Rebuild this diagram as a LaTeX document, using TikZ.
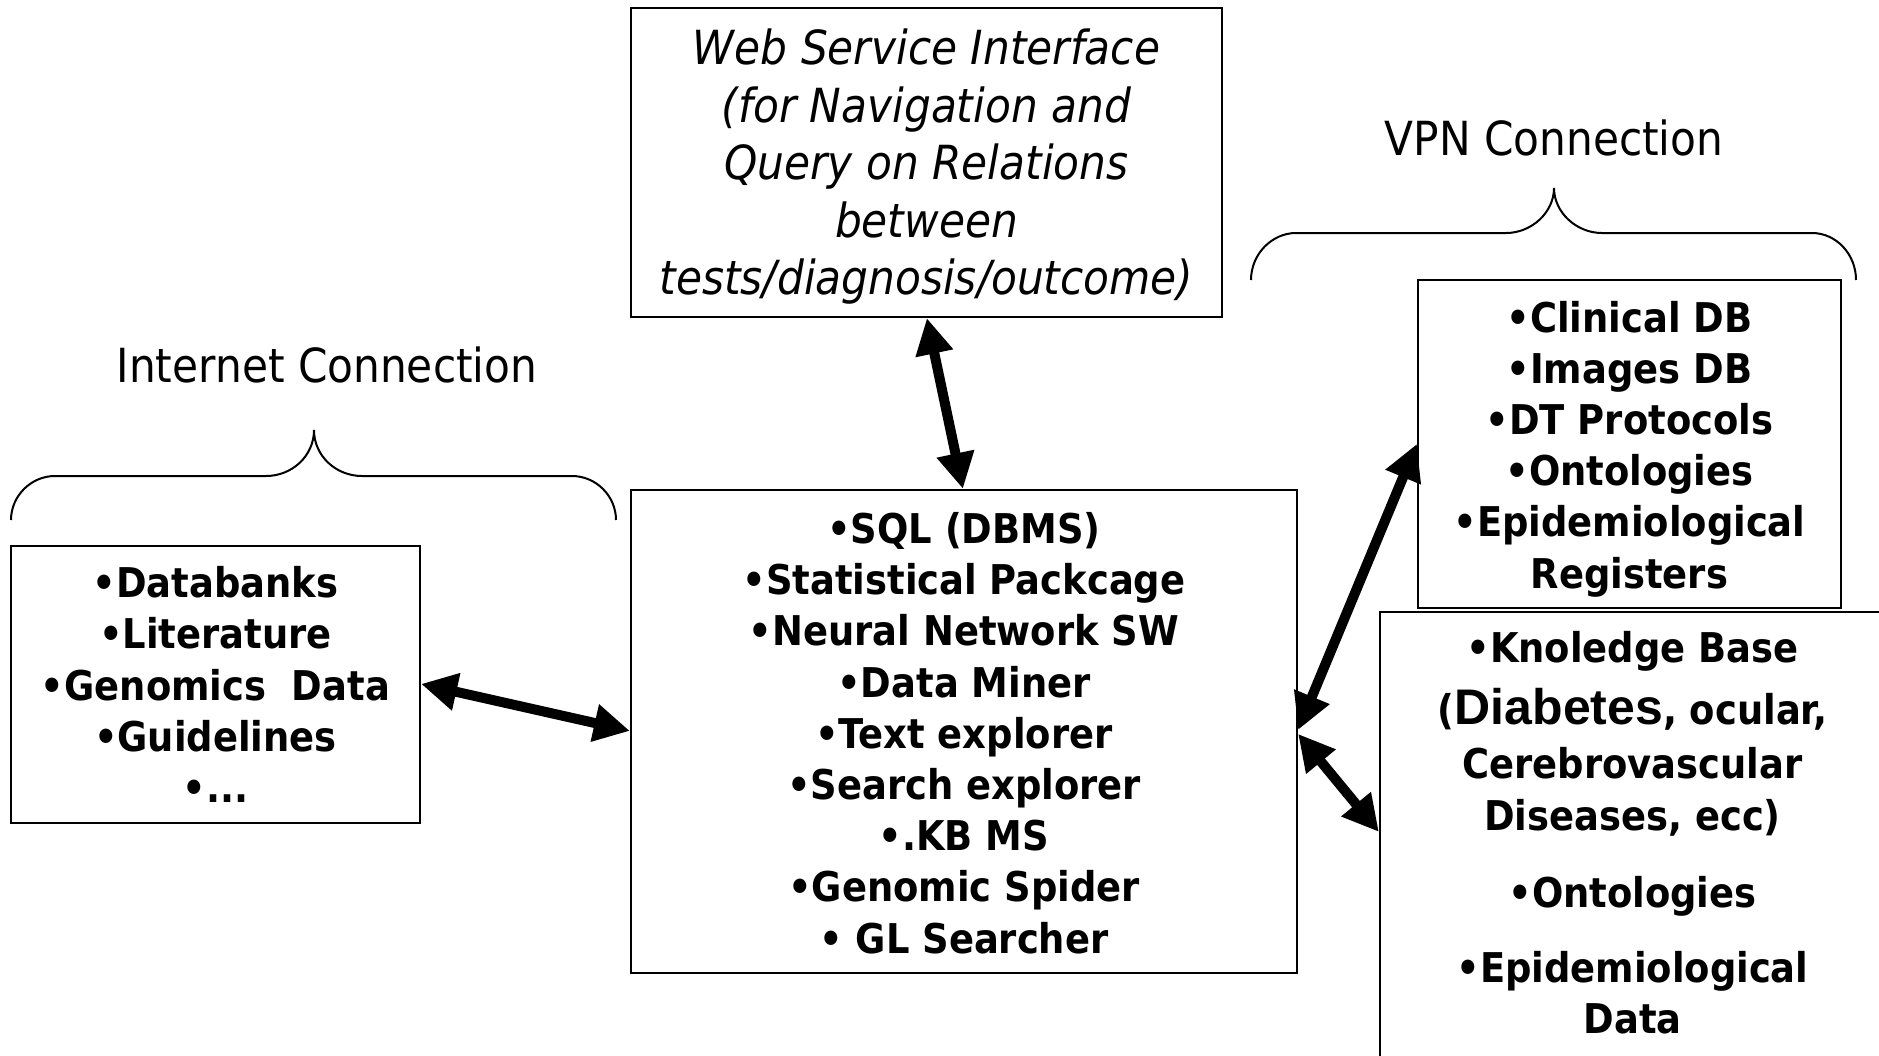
\documentclass[tikz,border=0pt]{standalone}
\usepackage{fontspec}
\setmainfont{DejaVu Sans Condensed}
\newfontfamily\arialbold{Liberation Sans}[UprightFont=*-Bold]
\usetikzlibrary{arrows.meta,calc}

\begin{document}
\begin{tikzpicture}[x=0.5pt,y=-0.5pt,
  box/.style={draw=black, line width=1.1pt, rectangle, inner sep=0pt},
  bodytext/.style={align=center, inner sep=0pt, font=\bfseries\fontsize{20.5}{25.6}\selectfont},
  webtext/.style={align=center, inner sep=0pt, font=\itshape\fontsize{23.5}{28.75}\selectfont},
  caption/.style={font=\fontsize{23.5}{28}\selectfont, inner sep=0pt, anchor=base},
  link/.style={line width=5pt, {Triangle[length=18pt,width=18pt]}-{Triangle[length=18pt,width=18pt]}},
  bracket/.style={line width=1pt}
]
\useasboundingbox (0,0) rectangle (1879,1055);
\clip (0,0) rectangle (1879,1055);

% frames
\node[box, minimum width=295.5pt, minimum height=154.5pt] (web) at (926.5,162.5) {};
\node[box, minimum width=333pt, minimum height=241.5pt] (main) at (964,731.5) {};
\node[box, minimum width=204.5pt, minimum height=138.5pt] (left) at (215.5,684.5) {};
\node[box, minimum width=211.5pt, minimum height=164pt] (clin) at (1629.5,444) {};
\node[box, minimum width=252.5pt, minimum height=225pt] (know) at (1632.5,837) {};

% web front end
\node[webtext] (webtxt) at ($(web.center)+(0,4.5)$)
  {Web Service Interface\\(for Navigation and\\Query on Relations\\between\\tests/diagnosis/outcome)};

% central tool set
\node[bodytext] (maintxt) at ($(main.center)+(0,1.5)$)
  {•SQL (DBMS)\\•Statistical Packcage\\•Neural Network SW\\•Data Miner\\•Text explorer\\•Search explorer\\•.KB MS\\•Genomic Spider\\• GL Searcher};

% public sources
\node[bodytext] (lefttxt) at (left.center)
  {•Databanks\\•Literature\\•Genomics\ \ Data\\•Guidelines\\•...};

% clinical sources
\node[bodytext] (clintxt) at ($(clin.center)+(0,5)$)
  {•Clinical DB\\•Images DB\\•DT Protocols\\•Ontologies\\•Epidemiological\\Registers};

% knowledge base
\node[bodytext] (knowtxt) at (1632.5,833)
  {•Knoledge Base\\[5pt]
   ({\arialbold\fontsize{25}{30}\selectfont Diabetes}, ocular,\\[1.75pt]
   Cerebrovascular\\
   Diseases, ecc)\\[13pt]
   •Ontologies\\[12pt]
   •Epidemiological\\
   Data};

% connection labels
\node[caption] (inet) at (327,382) {Internet Connection};
\node[caption] (vpn) at (1554,155) {VPN Connection};

% curly brackets
\draw[bracket] (11,520) .. controls (11,496) and (31,476) .. (55,476) -- (266,476)
  .. controls (292,476) and (314,456) .. (314,430)
  .. controls (314,456) and (336,476) .. (362,476) -- (572,476)
  .. controls (596,476) and (616,496) .. (616,520);
\draw[bracket] (1251,280) .. controls (1251,254) and (1272,233) .. (1296,233) -- (1506,233)
  .. controls (1532,233) and (1554,212) .. (1554,188)
  .. controls (1554,212) and (1576,233) .. (1602,233) -- (1812,233)
  .. controls (1836,233) and (1856,254) .. (1856,280);

% links
\draw[link] ($(web.south west)+(297,0)$) -- ($(main.north west)+(333,0)$);
\draw[link] ($(left.north east)+(0,139)$) -- ($(main.north west)+(0,242)$);
\draw[link] ($(main.north east)+(0,241)$) -- ($(clin.north west)+(0,165)$);
\draw[link] ($(main.north east)+(0,245)$) -- ($(know.north west)+(0,221)$);
\end{tikzpicture}
\end{document}
